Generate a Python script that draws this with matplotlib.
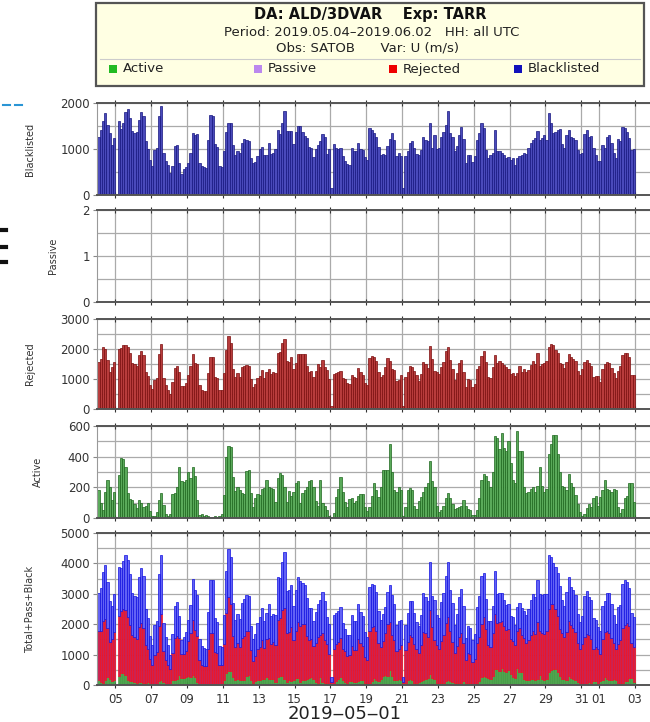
import matplotlib
matplotlib.use('Agg')
import matplotlib.pyplot as plt
import matplotlib.dates as mdates
from matplotlib.ticker import MultipleLocator, FixedLocator
from matplotlib.patches import Rectangle
from matplotlib.lines import Line2D
from datetime import datetime, timedelta

plt.rcParams['font.family'] = ['DejaVu Sans']

# 3-hourly counts, 2019-05-04 00 UTC .. 2019-06-02 21 UTC (8 per day)
blacklisted = [
    1270, 1420, 1610, 1780, 1530, 1340, 1080, 1250,
    0, 1600, 1430, 1565, 1800, 1870, 1670, 1400,
    1345, 1380, 1640, 1800, 1710, 1165, 1000, 760,
    630, 980, 1020, 1720, 1940, 920, 750, 650,
    470, 630, 1070, 1090, 700, 450, 560, 600,
    690, 920, 1340, 1310, 1330, 700, 640, 600,
    580, 1200, 1740, 1720, 1100, 1040, 620, 600,
    950, 1380, 1560, 1560, 1090, 880, 950, 920,
    1130, 1210, 1190, 1170, 800, 700, 720, 850,
    1000, 1040, 870, 880, 1130, 890, 910, 990,
    1420, 1330, 1570, 1820, 1400, 1390, 1390, 1110,
    1370, 1490, 1490, 1360, 1290, 1240, 1040, 1030,
    830, 1000, 1080, 1170, 1330, 1270, 895, 1000,
    145, 1100, 1020, 1000, 1020, 840, 730, 680,
    655, 1020, 950, 950, 1130, 1000, 980, 820,
    760, 1450, 1420, 1345, 1270, 1040, 870, 890,
    870, 1055, 1215, 1345, 1200, 840, 920, 840,
    145, 840, 950, 1130, 1165, 1020, 895, 880,
    980, 1270, 1200, 1165, 1560, 1020, 1310, 990,
    1020, 1270, 1380, 1530, 1820, 1345, 1270, 950,
    1055, 1310, 1470, 1215, 700, 870, 870, 710,
    840, 1200, 1345, 1560, 1450, 980, 800, 870,
    910, 1420, 950, 960, 910, 870, 800, 830,
    760, 800, 655, 800, 840, 870, 910, 900,
    1020, 1130, 1200, 1240, 1400, 1200, 1240, 1300,
    1200, 1780, 1560, 1345, 1380, 1420, 1430, 1100,
    1020, 1310, 1420, 1270, 1240, 1200, 980, 890,
    910, 1325, 1420, 1270, 1290, 1020, 870, 740,
    740, 1090, 1020, 1270, 1310, 1140, 910, 810,
    1215, 1165, 1470, 1450, 1360, 1240, 980, 990,
]
rejected = [
    1580, 1680, 2060, 2000, 1620, 1230, 1400, 1580,
    0, 2000, 2030, 2120, 2130, 2070, 1860, 1520,
    1500, 1440, 1800, 1950, 1790, 1240, 1100, 800,
    660, 980, 1040, 1820, 2170, 1020, 800, 640,
    500, 900, 1380, 1420, 1230, 780, 770, 880,
    1140, 1450, 1820, 1550, 1500, 800, 630, 600,
    590, 1190, 1720, 1720, 1080, 1040, 650, 640,
    1210, 1960, 2430, 2190, 1350, 1080, 1190, 1060,
    1400, 1450, 1480, 1450, 990, 730, 830, 1020,
    1100, 1290, 1030, 1250, 1330, 1170, 1230, 1200,
    1880, 1900, 2200, 2340, 1600, 1560, 1750, 1320,
    1530, 1830, 1830, 1830, 1830, 1420, 1250, 1260,
    1080, 1280, 1500, 1390, 1620, 1400, 1300, 1000,
    100, 1170, 1210, 1230, 1280, 1030, 1000, 880,
    850, 1150, 1060, 1050, 1380, 1240, 1130, 860,
    790, 1700, 1760, 1720, 1600, 1250, 1060, 1150,
    1390, 1710, 1590, 1330, 1290, 950, 970, 1120,
    100, 1070, 1250, 1440, 1410, 1270, 1130, 950,
    1170, 1580, 1500, 1360, 2110, 1680, 1280, 1240,
    1160, 1410, 1580, 1920, 2070, 1640, 1330, 980,
    1210, 1520, 1620, 1250, 750, 1000, 960, 740,
    820, 1330, 1440, 1760, 1940, 1580, 1060, 1050,
    1400, 1800, 1530, 1610, 1550, 1480, 1390, 1330,
    1160, 1190, 1100, 1200, 1430, 1220, 1330, 1230,
    1300, 1460, 1590, 1500, 1860, 1450, 1500, 1520,
    1600, 2080, 2170, 2120, 1960, 1860, 1540, 1500,
    1380, 1560, 1830, 1730, 1680, 1600, 1280, 1140,
    1340, 1570, 1620, 1550, 1430, 1060, 1110, 1090,
    890, 1340, 1490, 1570, 1540, 1360, 1190, 1020,
    1270, 1430, 1800, 1860, 1880, 1720, 1150, 1150,
]
active = [
    180, 100, 55, 170, 250, 200, 120, 170,
    0, 280, 390, 385, 330, 165, 125, 120,
    90, 65, 115, 95, 70, 80, 100, 45,
    10, 15, 40, 120, 165, 85, 25, 15,
    25, 155, 160, 205, 330, 240, 235, 250,
    300, 260, 330, 275, 115, 20, 25, 10,
    20, 10, 5, 5, 10, 5, 10, 25,
    150, 400, 470, 460, 265, 175, 200, 180,
    160, 155, 305, 315, 165, 75, 130, 155,
    150, 190, 195, 250, 205, 195, 190, 105,
    260, 295, 280, 200, 105, 175, 145, 170,
    230, 240, 100, 165, 180, 205, 240, 250,
    200, 110, 80, 250, 100, 80, 55, 10,
    5, 30, 140, 190, 270, 170, 105, 75,
    125, 130, 100, 110, 145, 155, 155, 70,
    45, 75, 145, 230, 180, 140, 200, 310,
    315, 310, 480, 300, 180, 170, 200, 180,
    10, 75, 180, 195, 180, 80, 60, 110,
    140, 170, 200, 230, 370, 240, 200, 80,
    40, 50, 80, 130, 160, 130, 90, 60,
    65, 70, 80, 120, 80, 60, 50, 20,
    20, 50, 130, 250, 290, 275, 240, 200,
    300, 535, 520, 450, 555, 455, 435, 500,
    360, 250, 230, 570, 440, 440, 200, 160,
    170, 190, 200, 170, 210, 330, 210, 170,
    190, 420, 480, 540, 540, 420, 300, 210,
    200, 180, 290, 230, 200, 150, 90, 40,
    15, 25, 65, 90, 75, 130, 145, 80,
    140, 180, 250, 190, 180, 170, 190, 180,
    75, 35, 60, 130, 145, 230, 230, 105,
]
passive = [0] * len(active)

start = datetime(2019, 5, 4)
times = [start + timedelta(hours=3 * i) for i in range(len(active))]
bw = 3 / 24.0

W, H = 650, 722
fig = plt.figure(figsize=(W / 100, H / 100), dpi=100)


def px_axes(top, bottom):
    # top/bottom pixel rows of the data area, left at x=97, right beyond the figure edge
    return fig.add_axes([97 / W, 1 - bottom / H, 570 / W, (bottom - top) / H])


def style(ax, ymax, major, minor, label, xlabels=False):
    ax.set_ylim(0, ymax)
    ax.set_xlim(datetime(2019, 5, 3, 23, 20), datetime(2019, 6, 4, 19))
    ax.yaxis.set_major_locator(MultipleLocator(major))
    ax.yaxis.set_minor_locator(MultipleLocator(minor))
    ax.xaxis.set_major_locator(mdates.DayLocator(bymonthday=range(1, 32, 2)))
    ax.xaxis.set_major_formatter(mdates.DateFormatter('%d'))
    ax.xaxis.set_minor_locator(FixedLocator([mdates.date2num(datetime(2019, 6, 1))]))
    ax.grid(True, axis='y', which='both', color='#aaaaaa', lw=0.9)
    ax.grid(True, axis='x', which='major', color='#aaaaaa', lw=0.9)
    ax.set_axisbelow(True)
    ax.tick_params(axis='y', which='major', length=3, color='#888888',
                   labelsize=8.5, labelcolor='#333333', pad=2)
    ax.tick_params(axis='y', which='minor', length=0)
    ax.tick_params(axis='x', which='major', top=True, bottom=True, direction='inout',
                   length=4, color='#333333', labelsize=8.5, labelcolor='#333333',
                   labelbottom=xlabels)
    ax.tick_params(axis='x', which='minor', top=True, bottom=True, direction='inout',
                   length=7, color='#333333')
    for s in ('top', 'bottom'):
        ax.spines[s].set_color('#555555')
        ax.spines[s].set_linewidth(1.4)
    ax.spines['left'].set_color('#999999')
    ax.spines['right'].set_visible(False)
    ax.set_ylabel(label, fontsize=7, color='#333333', labelpad=18)


ax1 = px_axes(103, 195)
ax1.bar(times, blacklisted, width=bw, align='edge', color='#4a4abb',
        edgecolor='#15157f', lw=0.5)
style(ax1, 2000, 1000, 500, 'Blacklisted')

ax2 = px_axes(210, 302)
ax2.bar(times, passive, width=bw, align='edge', color='#b088e8', lw=0)
style(ax2, 2, 1, 0.5, 'Passive')

ax3 = px_axes(319, 409)
ax3.bar(times, rejected, width=bw, align='edge', color='#b83c3c',
        edgecolor='#7a0d0d', lw=0.5)
style(ax3, 3000, 1000, 500, 'Rejected')

ax4 = px_axes(426, 518)
ax4.bar(times, active, width=bw, align='edge', color='#5aaa5a',
        edgecolor='#1d661d', lw=0.5)
style(ax4, 600, 200, 100, 'Active')

ax5 = px_axes(533, 685)
act_rej = [a + r for a, r in zip(active, rejected)]
ax5.bar(times, active, width=bw, align='edge', color='#4fa54f', edgecolor='#3c963c', lw=0.4)
ax5.bar(times, rejected, bottom=active, width=bw, align='edge', color='#cc2250',
        edgecolor='#f01020', lw=0.5)
ax5.bar(times, blacklisted, bottom=act_rej, width=bw, align='edge', color='#6262f5',
        edgecolor='#1010e0', lw=0.5)
style(ax5, 5000, 1000, 500, 'Total+Pass+Black', xlabels=True)
ax5.set_xlabel('2019\u201205\u201201', fontsize=13, color='#222222')
ax5.xaxis.set_label_coords((345 - 97) / 570, -0.13)

# header box
fig.patches.append(Rectangle((96 / W, 1 - 86 / H), 548 / W, 83 / H, transform=fig.transFigure,
                             facecolor='#ffffe3', edgecolor='#555555', lw=1.6))
fig.text(370 / W, 1 - 14 / H, 'DA: ALD/3DVAR    Exp: TARR', ha='center', va='center',
         fontsize=10.5, fontweight='bold', color='#111111')
fig.text(372 / W, 1 - 32 / H, 'Period: 2019.05.04\u20132019.06.02   HH: all UTC', ha='center',
         va='center', fontsize=9.5, color='#222222')
fig.text(367 / W, 1 - 48 / H, 'Obs: SATOB      Var: U (m/s)', ha='center', va='center',
         fontsize=9.5, color='#222222')
fig.lines.append(Line2D([100 / W, 640 / W], [1 - 59 / H] * 2, transform=fig.transFigure,
                        color='#cccccc', lw=0.8))
legend_items = [('Active', '#22bb22', 113), ('Passive', '#bb88ee', 258),
                ('Rejected', '#ee0000', 393), ('Blacklisted', '#1111bb', 518)]
for name, col, x in legend_items:
    fig.patches.append(Rectangle(((x - 4) / W, 1 - 73 / H), 8 / W, 8 / H,
                                 transform=fig.transFigure, facecolor=col, edgecolor='none'))
    fig.text((x + 10) / W, 1 - 69 / H, name, ha='left', va='center', fontsize=9.5,
             color='#222222')

# stray marks at the left edge of the screenshot
for x0, x1 in [(3, 10), (15, 22)]:
    fig.lines.append(Line2D([x0 / W, x1 / W], [1 - 105 / H] * 2, transform=fig.transFigure,
                            color='#2a95d5', lw=1.5))
for y in (230, 247, 262):
    fig.lines.append(Line2D([0, 6 / W], [1 - y / H] * 2, transform=fig.transFigure,
                            color='#111111', lw=3))

fig.savefig('out.png', dpi=100)
